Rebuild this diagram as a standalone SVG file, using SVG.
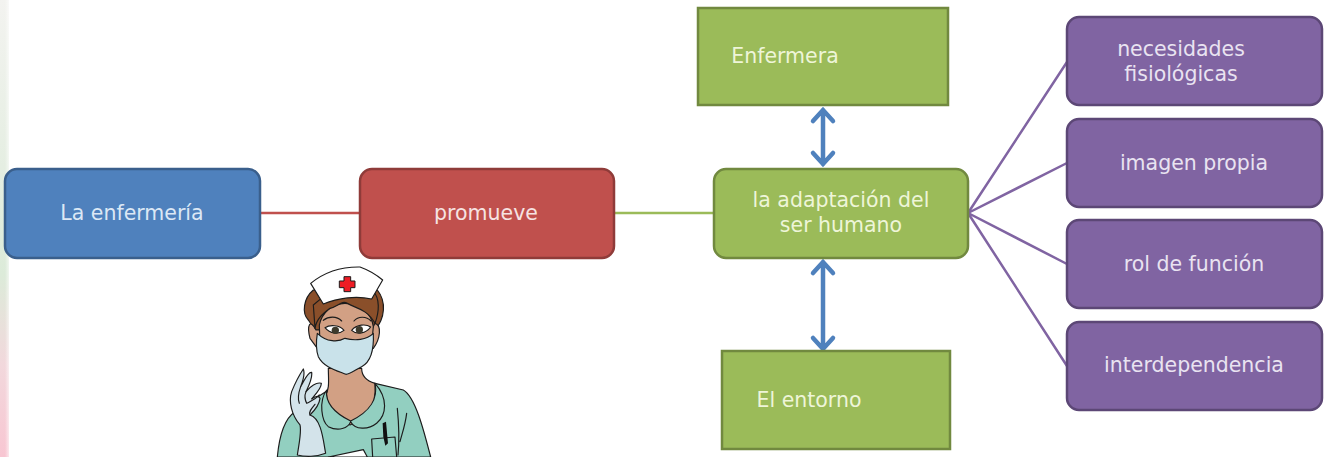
<svg xmlns="http://www.w3.org/2000/svg" width="1325" height="457" viewBox="0 0 1325 457">
<style>
text{font-family:"DejaVu Sans",Verdana,sans-serif;font-size:20.5px;text-anchor:middle}
.blue{fill:#4f81bd;stroke:#3a5f8c;stroke-width:2.5}
.red{fill:#c0504d;stroke:#8f3b39;stroke-width:2.5}
.green{fill:#9bbb59;stroke:#71893f;stroke-width:2.5}
.purple{fill:#8064a2;stroke:#5c4776;stroke-width:2.5}
.tb{fill:#dce8f5}.tr{fill:#f6e3e2}.tg{fill:#eef5d8}.tp{fill:#e9e3f1}
.ln{fill:none;stroke-linecap:round}
.ink{stroke:#1c1c1c;stroke-width:3.5;stroke-linejoin:round;stroke-linecap:round}
</style>
<defs>
<linearGradient id="edge" x1="0" y1="0" x2="0" y2="1">
<stop offset="0" stop-color="#f3f3f0"/><stop offset=".6" stop-color="#dcebd9"/><stop offset=".8" stop-color="#f2d8dc"/><stop offset="1" stop-color="#f8c6d2"/>
</linearGradient>
<linearGradient id="fade"><stop offset="0" stop-color="#fff" stop-opacity="0"/><stop offset="1" stop-color="#fff"/></linearGradient>
</defs>
<rect width="1325" height="457" fill="#fff"/>
<rect width="9" height="457" fill="url(#edge)"/>
<rect x="5" width="7" height="457" fill="url(#fade)"/>

<g id="connectors">
<path class="ln" d="M260 213H360" stroke="#c0504d" stroke-width="2.5"/>
<path class="ln" d="M614 213H714" stroke="#9bbb59" stroke-width="2.5"/>
<g stroke="#8064a2" stroke-width="2.5" class="ln">
<path d="M968 213L1067 62"/><path d="M968 213L1067 163"/><path d="M968 213L1067 264"/><path d="M968 213L1067 366"/>
</g>
<g stroke="#4f81bd" stroke-width="4.5" class="ln" stroke-linejoin="miter">
<path d="M823 110V164M813 121L823 110L833 121M813 153L823 164L833 153"/>
<path d="M823 262V349M813 273L823 262L833 273M813 338L823 349L833 338"/>
</g>
</g>

<g id="node-enfermeria"><rect class="blue" x="5" y="169" width="255" height="89" rx="12"/><text class="tb" x="132" y="220">La enfermería</text></g>
<g id="node-promueve"><rect class="red" x="360" y="169" width="254" height="89" rx="12"/><text class="tr" x="486" y="220">promueve</text></g>
<g id="node-enfermera"><rect class="green" x="698" y="8" width="250" height="97"/><text class="tg" x="785" y="63">Enfermera</text></g>
<g id="node-adaptacion"><rect class="green" x="714" y="169" width="254" height="89" rx="12"/><text class="tg" x="841" y="207">la adaptación del</text><text class="tg" x="841" y="232">ser humano</text></g>
<g id="node-entorno"><rect class="green" x="722" y="351" width="228" height="98"/><text class="tg" x="809" y="407">El entorno</text></g>
<g id="node-necesidades"><rect class="purple" x="1067" y="17" width="255" height="88" rx="12"/><text class="tp" x="1181" y="56">necesidades</text><text class="tp" x="1181" y="81">fisiológicas</text></g>
<g id="node-imagen"><rect class="purple" x="1067" y="119" width="255" height="88" rx="12"/><text class="tp" x="1194" y="170">imagen propia</text></g>
<g id="node-rol"><rect class="purple" x="1067" y="220" width="255" height="88" rx="12"/><text class="tp" x="1194" y="271">rol de función</text></g>
<g id="node-interdependencia"><rect class="purple" x="1067" y="322" width="255" height="88" rx="12"/><text class="tp" x="1194" y="372">interdependencia</text></g>

<!-- nurse figure, drawn on a 3x grid -->
<g id="nurse" transform="translate(260 255) scale(.3333)">
<!-- uniform -->
<path class="ink" fill="#92cfc0" d="M52 606C58 540 75 490 105 470L205 405L345 385L430 405C465 425 490 520 512 606Z"/>
<!-- neck and chest -->
<path class="ink" fill="#d2a084" d="M205 340C205 375 210 400 195 425C205 470 240 495 270 510C320 490 350 460 345 385C320 378 305 365 305 340Z"/>
<!-- collar -->
<path class="ink" fill="#92cfc0" d="M200 405C175 440 185 500 205 515C235 530 265 520 272 500C285 525 325 525 350 505C380 480 385 430 345 385C355 430 330 470 272 498C235 480 195 450 200 405Z"/>
<!-- pocket and pen -->
<path class="ink" fill="#92cfc0" d="M335 552L405 546L410 606H338Z"/>
<path fill="#111" d="M368 505L378 500L384 565L376 572L370 545Z"/>
<path class="ink" fill="none" d="M412 460C416 500 418 560 414 600M440 475C436 510 425 540 420 560"/>
<!-- paper held at the hem -->
<path class="ink" fill="#fff" d="M205 606L310 584L322 606Z"/>
<!-- hair behind the face -->
<path class="ink" fill="#8a4f2a" d="M160 105C130 130 125 175 145 195L165 225L345 225C375 190 380 140 352 105Z"/>
<!-- ears and face -->
<path class="ink" fill="#d2a084" d="M168 225C150 190 140 210 150 250L172 280L340 280C362 250 365 210 345 205L335 225Z"/>
<path class="ink" fill="#d2a084" d="M178 210C185 175 215 145 255 145C300 145 335 175 340 215L335 270L180 270Z"/>
<path class="ink" fill="#8a4f2a" d="M165 220C170 190 190 175 210 160C235 155 245 135 262 145C285 160 320 160 345 205C358 170 360 130 340 110L190 125L160 150Z"/>
<!-- brows and eyes -->
<path class="ink" fill="none" stroke-width="3" d="M190 196C205 184 230 182 245 198M282 198C295 182 320 184 333 198"/>
<path class="ink" fill="#fff" stroke-width="3" d="M195 218C210 208 240 210 252 226C235 240 210 236 195 218ZM275 226C290 208 318 206 332 216C318 236 290 240 275 226Z"/>
<circle cx="226" cy="226" r="11" fill="#3d3a2c"/><circle cx="298" cy="224" r="11" fill="#3d3a2c"/>
<!-- mask -->
<path class="ink" fill="#c9e2ea" d="M172 235C200 262 235 262 255 250C285 258 320 255 340 235C342 280 335 320 305 335C285 345 270 358 258 358C225 345 190 335 175 305C168 285 168 260 172 235Z"/>
<!-- cap -->
<path class="ink" fill="#fff" d="M152 85C195 50 245 35 300 36C325 45 350 60 368 75L335 132C290 122 235 128 190 147Z"/>
<path fill="#ee1c25" stroke="#1c1c1c" stroke-width="3" d="M252 65H272V78H285V98H272V110H252V98H238V78H252Z"/>
<!-- glove -->
<path class="ink" fill="#d3e3ea" d="M112 600C118 560 125 530 120 510C95 480 85 440 95 410C105 385 118 360 130 342C135 355 130 375 122 395C132 380 142 350 155 352C158 370 145 395 138 410C150 395 170 380 184 385C185 400 165 420 155 432C165 425 175 420 180 430C178 450 155 475 150 480C185 490 190 560 197 595C170 606 135 606 112 600Z"/>
<path class="ink" fill="none" stroke-width="3" d="M122 395C115 415 112 430 118 445M138 410C132 425 135 435 140 445C150 440 165 435 178 420M150 480C145 470 155 460 165 448"/>
</g>
</svg>
